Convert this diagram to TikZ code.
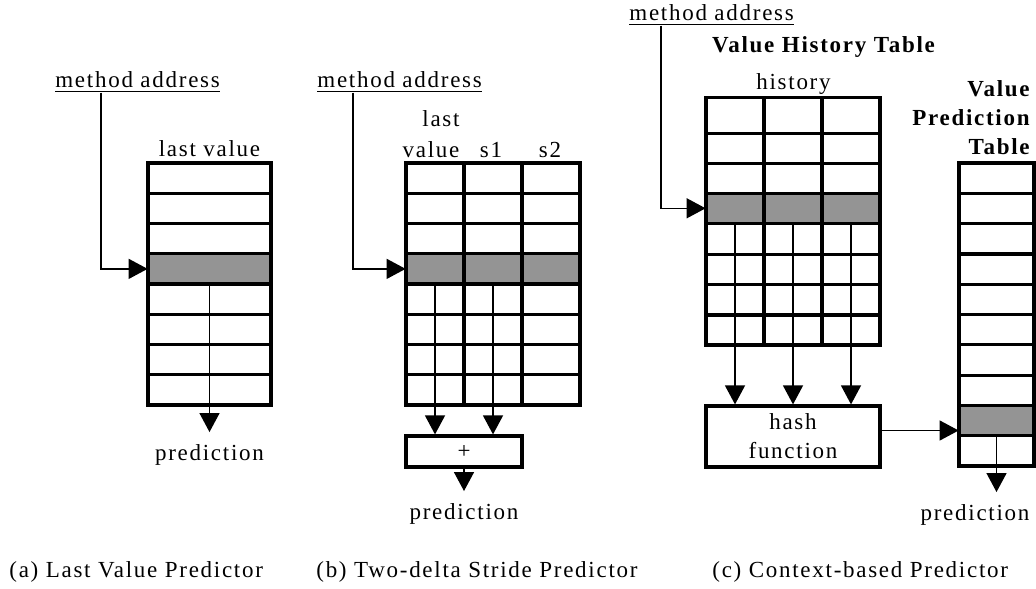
\documentclass[tikz,border=0pt]{standalone}
\usepackage{fontspec}
\setmainfont{Liberation Serif}[LetterSpace=7.5]
\usetikzlibrary{arrows.meta,calc}
\definecolor{rowgray}{gray}{0.58}
\tikzset{
  tbl/.style={line width=1.6pt},
  arr/.style={line width=0.7pt,-{Triangle[length=9.5pt,width=10pt]}},
  lbl/.style={inner sep=0pt,font=\fontsize{11.5}{14.5}\selectfont},
  ttl/.style={lbl,font=\fontsize{11.5}{14.5}\selectfont\bfseries},
  pred/.style={lbl,outer sep=6pt},
  box/.style={draw,line width=1.6pt,inner sep=0pt,font=\fontsize{11.5}{14.5}\selectfont},
  graycell/.style={fill=rowgray,inner sep=0pt,minimum height=15.125pt},
}
\begin{document}
\begin{tikzpicture}[x=0.5pt,y=-0.5pt]
\useasboundingbox (0,0) rectangle (1036,588);

% (a) last value predictor
\node[graycell,minimum width=61.5pt] (grayA) at (209.5,268.875) {};
\draw[tbl] (148,163) rectangle (271,405);
\foreach \k in {1,...,7}
  \draw[tbl] (148,{163+30.25*\k}) -- (271,{163+30.25*\k});
\node[lbl,anchor=base west] (maA) at (55,88) {\underline{method address}};
\node[lbl,anchor=base] (lvA) at (209.5,157) {last value};
\node[pred,anchor=base] (predA) at (209.5,460) {prediction};
\draw[arr] ([xshift=23pt]maA.south west) |- (grayA.west);
\draw[arr] (grayA) -- (predA.north);
\node[lbl,anchor=base west] (capA) at (9,577) {(a) Last Value Predictor};

% (b) two-delta stride predictor
\node[graycell,minimum width=29pt] (grayB1) at (435,268.875) {};
\node[graycell,minimum width=29pt] (grayB2) at (493,268.875) {};
\node[graycell,minimum width=29pt] (grayB3) at (551,268.875) {};
\draw[tbl] (406,163) rectangle (580,405);
\foreach \k in {1,...,7}
  \draw[tbl] (406,{163+30.25*\k}) -- (580,{163+30.25*\k});
\draw[tbl] (464,163) -- (464,405);
\draw[tbl] (522,163) -- (522,405);
\node[lbl,anchor=base west] (maB) at (317,88) {\underline{method address}};
\node[lbl,anchor=base] (lastB) at (441,127) {last};
\node[lbl,anchor=base] (valB) at (431,158) {value};
\node[lbl,anchor=base] (sB1) at (491,158) {s1};
\node[lbl,anchor=base] (sB2) at (550,158) {s2};
\node[box,minimum width=58pt,minimum height=15.5pt] (plus) at (464,451.5) {+};
\node[pred,anchor=base] (predB) at (464,519) {prediction};
\draw[arr] ([xshift=18pt]maB.south west) |- (grayB1.west);
\draw[arr] (grayB1) -- (grayB1 |- plus.north);
\draw[arr] (grayB2) -- (grayB2 |- plus.north);
\draw[arr] (plus.south) -- (predB.north);
\node[lbl,anchor=base west] (capB) at (316,577) {(b) Two-delta Stride Predictor};

% (c) context-based predictor
\node[graycell,minimum width=29pt,minimum height=15pt] (grayC1) at (735,208.3) {};
\node[graycell,minimum width=29pt,minimum height=15pt] (grayC2) at (793,208.3) {};
\node[graycell,minimum width=29pt,minimum height=15pt] (grayC3) at (851,208.3) {};
\draw[tbl] (706,97.3) rectangle (880,345);
\foreach \y in {133.3,163.3,193.3,223.3,254.5,284.7,314.9}
  \draw[tbl] (706,\y) -- (880,\y);
\draw[tbl] (764,97.3) -- (764,345);
\draw[tbl] (822,97.3) -- (822,345);
\node[graycell,minimum width=37.5pt] (grayV) at (996.5,420.55) {};
\draw[tbl] (959,163) rectangle (1034,466);
\foreach \k in {1,...,9}
  \draw[tbl] (959,{163+30.3*\k}) -- (1034,{163+30.3*\k});
\node[lbl,anchor=base west] (maC) at (629,21) {\underline{method address}};
\node[ttl,anchor=base] (vhtT) at (823.5,53) {Value History Table};
\node[lbl,anchor=base] (histC) at (793.5,90) {history};
\node[ttl,anchor=north east,align=right] (vptT) at (1030,80) {Value\\Prediction\\Table};
\node[box,minimum width=87pt,minimum height=30.5pt,align=center] (hash) at (793,436.5) {hash\\function};
\node[pred,anchor=base] (predC) at (975,520) {prediction};
\draw[arr] ([xshift=16pt]maC.south west) |- (grayC1.west);
\draw[arr] (grayC1) -- (grayC1 |- hash.north);
\draw[arr] (grayC2) -- (grayC2 |- hash.north);
\draw[arr] (grayC3) -- (grayC3 |- hash.north);
\draw[arr] ([yshift=3pt]hash.east) -- ([yshift=3pt]hash.east -| grayV.west);
\draw[arr] (grayV) -- (grayV |- predC.north);
\node[lbl,anchor=base west] (capC) at (712,577) {(c) Context-based Predictor};
\end{tikzpicture}
\end{document}
